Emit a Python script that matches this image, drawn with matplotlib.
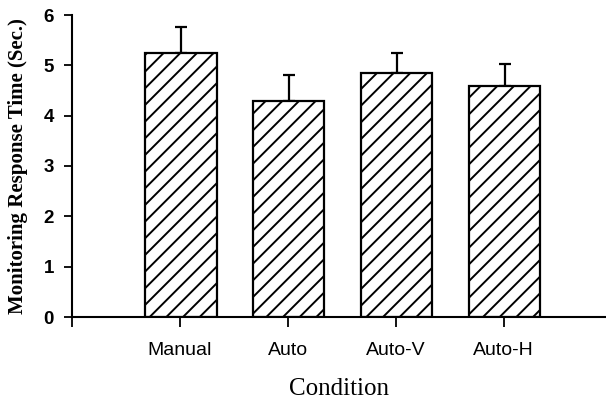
import matplotlib
matplotlib.use("Agg")
import matplotlib.pyplot as plt
import numpy as np

categories = ["Manual", "Auto", "Auto-V", "Auto-H"]
means = [5.25, 4.30, 4.85, 4.59]
errors = [0.52, 0.51, 0.40, 0.44]

plt.rcParams['hatch.linewidth'] = 1.4

fig = plt.figure(figsize=(6.06, 4.01), dpi=100)
ax = fig.add_axes([72/606, 84/401, 1 - 72/606, (317-15)/401])

x = np.arange(1, len(categories) + 1)
ax.bar(x + 0.01, means, width=0.66, color='white', edgecolor='black', hatch='//',
       linewidth=1.6, zorder=2)
ax.errorbar(x + 0.01, means, yerr=[np.zeros(len(errors)), errors], fmt='none',
            ecolor='black', elinewidth=1.6, capsize=4.3, capthick=1.6, zorder=1)

ax.set_xlim(0, 4.95)
ax.set_ylim(0, 6)
ax.set_xticks([0] + list(x))
ax.set_xticklabels([""] + categories, fontsize=14, family="Liberation Sans")
ax.set_yticks(range(0, 7))
ax.set_yticklabels([str(v) for v in range(0, 7)], fontsize=13.5,
                   family="Liberation Sans", fontweight='bold')

for s in ['top', 'right']:
    ax.spines[s].set_visible(False)
for s in ['left', 'bottom']:
    ax.spines[s].set_linewidth(1.5)
ax.tick_params(axis='y', length=6, width=1.3, pad=7)
ax.tick_params(axis='x', length=7, width=1.3, pad=11)

ax.set_xlabel("Condition", fontsize=18, family="Liberation Serif", labelpad=14)
ax.set_ylabel("Monitoring Response Time (Sec.)", fontsize=15,
              family="Liberation Serif", fontweight='bold', labelpad=11)

fig.savefig("out.png", dpi=100)
